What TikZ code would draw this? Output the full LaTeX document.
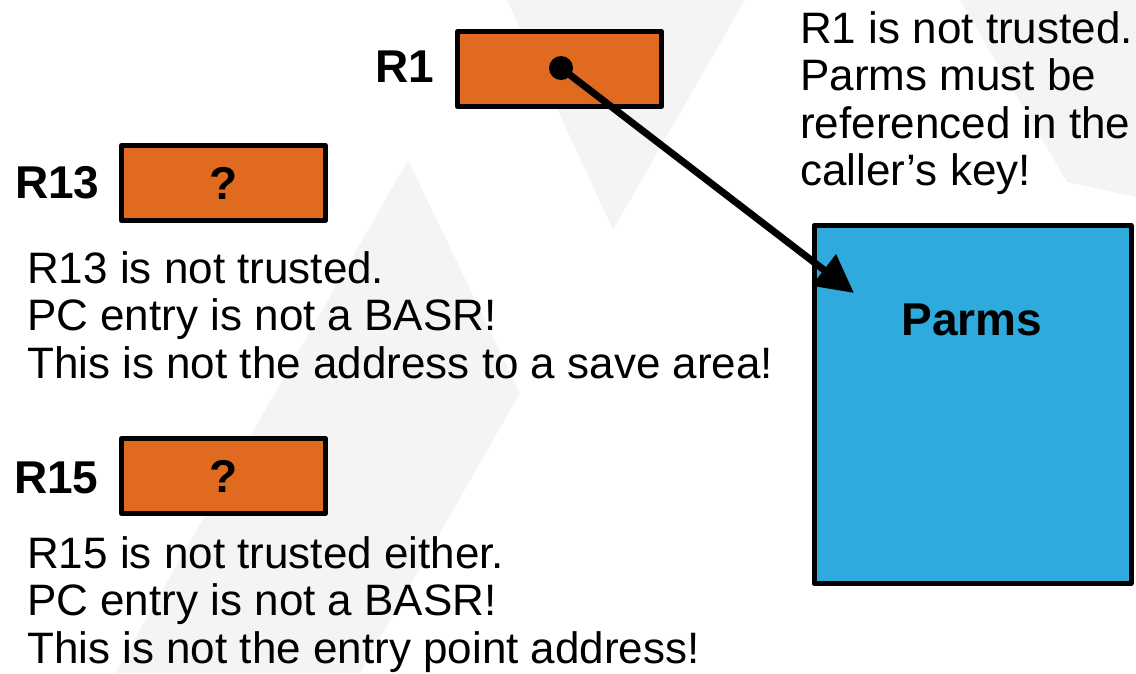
\documentclass[tikz,border=0pt]{standalone}
\usepackage{fontspec}
\setmainfont{Liberation Sans}
\usetikzlibrary{arrows.meta}
\definecolor{regorange}{RGB}{224,106,32}
\definecolor{parmblue}{RGB}{46,170,220}
\definecolor{bgshade}{RGB}{244,244,244}

\begin{document}
\begin{tikzpicture}[x=1pt,y=-1pt,
  regbox/.style={draw=black, line width=5pt, line join=round, fill=regorange,
    minimum width=204pt, minimum height=75pt, inner sep=0pt,
    font=\fontsize{46}{54}\selectfont\bfseries},
  reglabel/.style={anchor=base west, inner sep=0pt,
    font=\fontsize{46}{54}\selectfont\bfseries},
  note/.style={anchor=base west, inner sep=0pt, align=left,
    font=\fontsize{44}{47.5}\selectfont},
  pointer/.style={line width=7pt, -{Triangle[length=38pt,width=38pt]}},
]
\useasboundingbox (0,0) rectangle (1136,673);

% faint background chevrons
\fill[bgshade] (507,0) -- (745,0) -- (613,230) -- cycle;
\fill[bgshade] (115,673) -- (408,160) -- (520,393) -- (360,673) -- cycle;
\fill[bgshade] (960,0) -- (1136,0) -- (1136,197) -- (1067,182) -- cycle;

% registers
\node[regbox] (r1) at (559.5,69) {};
\node[reglabel] (r1lab) at (375,82) {R1};
\node[regbox] (r13) at (223.5,183) {?};
\node[reglabel] (r13lab) at (15,198) {R13};
\node[regbox] (r15) at (223.5,476) {?};
\node[reglabel] (r15lab) at (14,493) {R15};

% parameter area
\node[draw=black, line width=5pt, line join=round, fill=parmblue,
      minimum width=317pt, minimum height=358pt, inner sep=0pt] (parms) at (972.5,404.5) {};
\node[reglabel, anchor=base] (parmslab) at (972,335) {Parms};

% pointer held in R1
\coordinate (r1dot) at (561,68);
\coordinate (parmtip) at (854,293);
\fill (r1dot) circle (12);
\draw[pointer] (r1dot) -- (parmtip);

% notes (anchored at the baseline of their last line)
\node[note] (n1) at (800,185.5) {R1 is not trusted.\\Parms must be\\referenced in the\\caller’s key!};
\node[note] (n13) at (27,378) {R13 is not trusted.\\PC entry is not a BASR!\\This is not the address to a save area!};
\node[note] (n15) at (27,663) {R15 is not trusted either.\\PC entry is not a BASR!\\This is not the entry point address!};
\end{tikzpicture}
\end{document}
